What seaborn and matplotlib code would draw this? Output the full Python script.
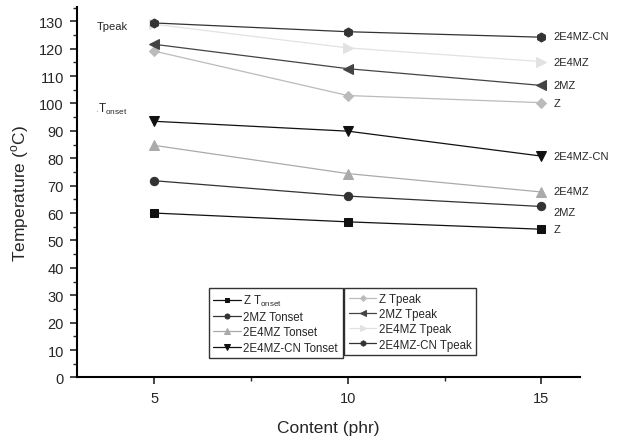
import matplotlib
matplotlib.use("Agg")
import matplotlib.pyplot as plt
from matplotlib.ticker import MultipleLocator
import numpy as np
import pandas as pd
import seaborn as sns

content = [5, 10, 15]

# Tonset series
z_onset = [60.0, 56.8, 54.1]
mz_onset = [71.8, 66.2, 62.4]
e4mz_onset = [84.7, 74.4, 67.7]
cn_onset = [93.5, 89.9, 80.8]

# Tpeak series
z_peak = [119.1, 102.9, 100.3]
mz_peak = [121.6, 112.7, 106.6]
e4mz_peak = [128.9, 120.3, 115.3]
cn_peak = [129.4, 126.2, 124.2]

onset_names = ["Z T$_{\\rm onset}$", "2MZ Tonset", "2E4MZ Tonset", "2E4MZ-CN Tonset"]
peak_names = ["Z Tpeak", "2MZ Tpeak", "2E4MZ Tpeak", "2E4MZ-CN Tpeak"]
end_labels = ["Z", "2MZ", "2E4MZ", "2E4MZ-CN"]
# small vertical nudges of the end labels (label position vs. last point)
onset_nudge = [0, -2.0, 0.2, 0]
peak_nudge = [0, 0, 0, 0.4]

sns.set_style("ticks")
plt.rcParams['font.family'] = ['Liberation Sans', 'DejaVu Sans']
plt.rcParams['mathtext.fontset'] = 'custom'
plt.rcParams['mathtext.rm'] = 'Liberation Sans'

fig = plt.figure(figsize=(6.21, 4.39), dpi=100)
ax = fig.add_axes([0.124, 0.138, 0.810, 0.843])

onset = [z_onset, mz_onset, e4mz_onset, cn_onset]
peak = [z_peak, mz_peak, e4mz_peak, cn_peak]
onset_style = [("s", "#111111"), ("o", "#333333"), ("^", "#aaaaaa"), ("v", "#111111")]
peak_style = [("D", "#bbbbbb"), ("<", "#444444"), (">", "#e2e2e2"), ("h", "#333333")]
onset_ms = [5.5, 6, 6.5, 6.5]
peak_ms = [5, 6.5, 6.5, 6.5]

h_on, h_pk = [], []
for vals, (mk, c), ms in zip(onset, onset_style, onset_ms):
    df = pd.DataFrame({"x": content, "y": vals})
    sns.lineplot(data=df, x="x", y="y", ax=ax, color=c, marker=mk, markersize=ms,
                 markeredgecolor=c, linewidth=0.9)
    h_on.append(ax.lines[-1])
for vals, (mk, c), ms in zip(peak, peak_style, peak_ms):
    df = pd.DataFrame({"x": content, "y": vals})
    sns.lineplot(data=df, x="x", y="y", ax=ax, color=c, marker=mk, markersize=ms,
                 markeredgecolor=c, linewidth=0.9)
    h_pk.append(ax.lines[-1])

# labels at the right end
for vals, lab, dy in zip(onset + peak, end_labels + end_labels, onset_nudge + peak_nudge):
    ax.text(15.32, vals[-1] + dy, lab, fontsize=8, va="center", ha="left")

ax.text(3.52, 128.3, "Tpeak", fontsize=8, va="center")
ax.text(3.47, 98.2, ".", fontsize=7, va="center", color="#888888")
ax.text(3.53, 98.2, "T$_{\\rm onset}$", fontsize=8.5, va="center")

ax.set_xlim(3, 16)
ax.set_ylim(0, 135.1)
ax.set_xticks([5, 10, 15])
ax.set_yticks(np.arange(0, 131, 10))
ax.xaxis.set_minor_locator(MultipleLocator(2.5))
ax.yaxis.set_minor_locator(MultipleLocator(5))
ax.tick_params(axis="both", which="major", direction="out", length=5, width=1.2,
               labelsize=10.5, pad=4.5)
ax.tick_params(axis="both", which="minor", direction="out", length=3, width=1)
ax.set_xlabel("Content (phr)", fontsize=12.5, labelpad=11)
ax.set_ylabel("Temperature ($^{\\rm o}$C)", fontsize=12.5, labelpad=6)
sns.despine(ax=ax)
for s in ["left", "bottom"]:
    ax.spines[s].set_linewidth(1.5)
    ax.spines[s].set_color("black")

leg_kw = dict(loc="upper left", fontsize=8.3, frameon=True, fancybox=False,
              handlelength=2.4, handletextpad=0.2, labelspacing=0.28, borderpad=0.4,
              borderaxespad=0, markerscale=0.6)
leg1 = ax.legend(h_on, onset_names, bbox_to_anchor=(0.262, 0.241), **leg_kw)
leg1.get_frame().set_edgecolor("black")
leg1.get_frame().set_linewidth(1)
ax.add_artist(leg1)
leg2 = ax.legend(h_pk, peak_names, bbox_to_anchor=(0.531, 0.241), **leg_kw)
leg2.get_frame().set_edgecolor("black")
leg2.get_frame().set_linewidth(1)

fig.savefig("out.png", dpi=100)
